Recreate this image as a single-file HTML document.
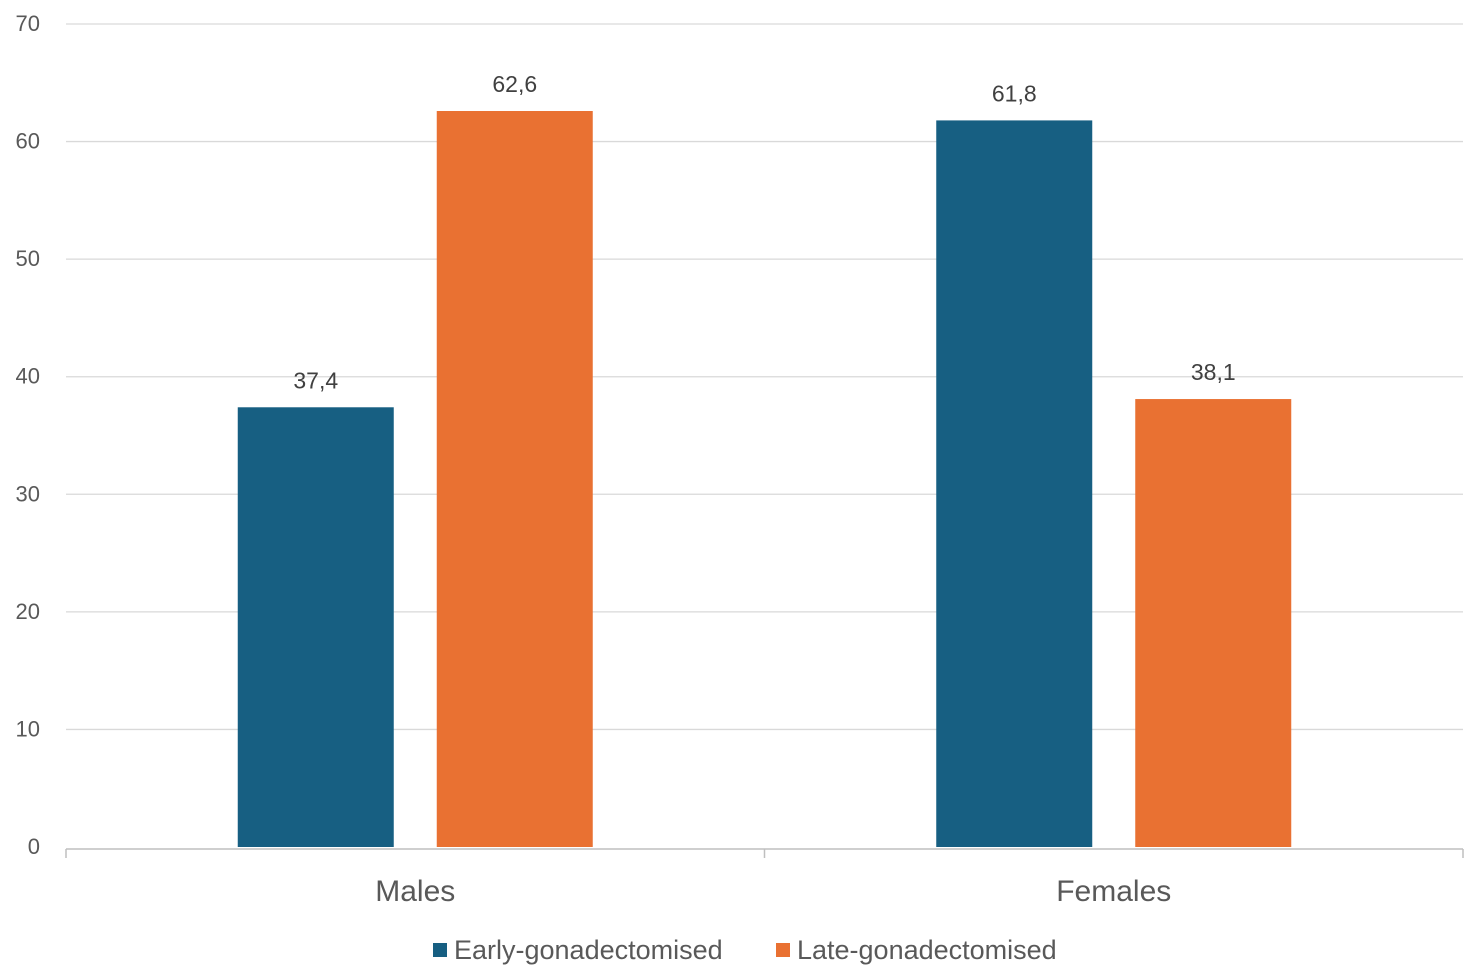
<!DOCTYPE html>
<html><head><meta charset="utf-8"><style>
body{margin:0;background:#fff;}
svg{display:block;font-family:"Liberation Sans",Arial,sans-serif;}
</style></head><body>
<svg id="chart" width="1477" height="977" viewBox="0 0 1477 977"></svg>
<script>
const categories=["Males","Females"];
const seriesNames=["Early-gonadectomised","Late-gonadectomised"];
const earlyValues=[37.4,61.8];
const lateValues=[62.6,38.1];
const valueLabels=[["37,4","61,8"],["62,6","38,1"]];
const yTicks=[0,10,20,30,40,50,60,70];
const colors=["#175f82","#e97132"];
const NS="http://www.w3.org/2000/svg";
const svg=document.getElementById('chart');
const x0=66,x1=1463,y0=847,yTop=24,yMax=70;
const y=v=>y0-(v/yMax)*(y0-yTop);
const catW=(x1-x0)/categories.length;
const barW=156,gap=43;
function el(t,a){const e=document.createElementNS(NS,t);for(const k in a)e.setAttribute(k,a[k]);svg.appendChild(e);return e;}
yTicks.forEach(t=>{
 if(t>0){const g=el('line',{x1:x0,x2:x1,y1:y(t),y2:y(t),stroke:'#d9d9d9','stroke-width':1.3});
 
 }
 const tx=el('text',{x:40,y:y(t)+7,'text-anchor':'end','font-size':22,fill:'#595959'});
 tx.textContent=t;
 
 
});
const ax=el('line',{x1:x0,x2:x1,y1:y0+2,y2:y0+2,stroke:'#bfbfbf','stroke-width':1.5});


for(let i=0;i<=categories.length;i++){
 const tk=el('line',{x1:x0+i*catW,x2:x0+i*catW,y1:y0+2,y2:y0+11,stroke:'#bfbfbf','stroke-width':1.5});
 
 
}
const series=[earlyValues,lateValues];
categories.forEach((c,i)=>{
 const cx=x0+catW*(i+0.5);
 series.forEach((vals,s)=>{
  const bx=s===0?cx-gap/2-barW:cx+gap/2;
  const r=el('rect',{x:bx,y:y(vals[i]),width:barW,height:y0-y(vals[i]),fill:colors[s]});
  
  
  const t=el('text',{x:bx+barW/2,y:y(vals[i])-19,'text-anchor':'middle','font-size':23,fill:'#404040'});
  t.textContent=valueLabels[s][i];
  
  
 });
 const ct=el('text',{x:cx,y:901,'text-anchor':'middle','font-size':30,fill:'#595959'});
 ct.textContent=c;
 
 
});
const legX=[433,776];
seriesNames.forEach((n,s)=>{
 const sw=el('rect',{x:legX[s],y:943,width:14,height:14,fill:colors[s]});
 
 
 const t=el('text',{x:legX[s]+21,y:959,'font-size':27,fill:'#595959'});
 t.textContent=n;
 
 
});
</script>
</body></html>
